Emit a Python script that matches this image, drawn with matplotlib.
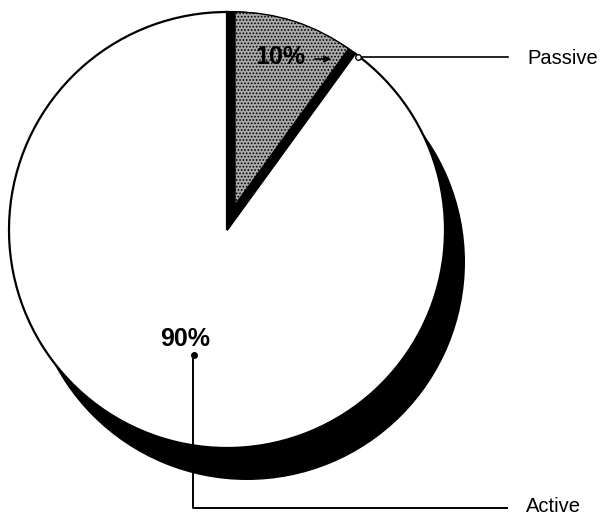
import matplotlib
matplotlib.use('Agg')
from matplotlib import pyplot as plt

plt.rcParams['font.family'] = ['Liberation Sans', 'DejaVu Sans']
plt.rcParams['hatch.linewidth'] = 0.8

# data
labels = ['Passive', 'Active']
shares = [10, 90]
pct_text = ['{}%'.format(v) for v in shares]

W, H = 607, 518
fig = plt.figure(figsize=(W / 100, H / 100), dpi=100)
ax = fig.add_axes([0, 0, 1, 1])

R = 218
cx, cy = 227, 288

# black drop shadow behind the whole pie
ax.pie([sum(shares)], colors=['black'], radius=R, center=(cx + 20, cy - 32),
       wedgeprops=dict(linewidth=0))

# main pie: passive slot shows black depth, active is white
main, _ = ax.pie(shares, colors=['black', 'white'], startangle=90, counterclock=False,
                 radius=R, center=(cx, cy),
                 wedgeprops=dict(edgecolor='black', linewidth=1.6))

# raised stippled passive slice
raised, _ = ax.pie(shares, colors=['#a9a9a9', 'white'], startangle=90, counterclock=False,
                   radius=R - 25, center=(cx + 8, cy + 25),
                   wedgeprops=dict(edgecolor='black', linewidth=1.0))
raised[0].set_hatch('.....')
raised[1].set_visible(False)

# Passive leader
ax.plot([358, 508], [461, 461], color='black', lw=1.2)
ax.plot([358], [461], marker='o', ms=4, mfc='white', mec='black', mew=1)
ax.text(527, 459, labels[0], fontsize=14.5, ha='left', va='center')
ax.text(280, 461, pct_text[0], fontsize=18, fontweight='bold', ha='center', va='center')
ax.annotate('', xy=(334, 459), xytext=(312, 459),
            arrowprops=dict(arrowstyle='-|>', color='black', lw=1.2, mutation_scale=10))

# Active leader
ax.text(185, 179, pct_text[1], fontsize=18, fontweight='bold', ha='center', va='center')
ax.plot([193, 193, 507], [163, 10, 10], color='black', lw=1.4)
ax.plot([194], [163], marker='o', ms=4, color='black')
ax.text(526, 11, labels[1], fontsize=14.5, ha='left', va='center')

ax.set_xlim(0, W)
ax.set_ylim(0, H)
ax.set_aspect('equal')
ax.axis('off')

fig.savefig('out.png', dpi=100, facecolor='white')
